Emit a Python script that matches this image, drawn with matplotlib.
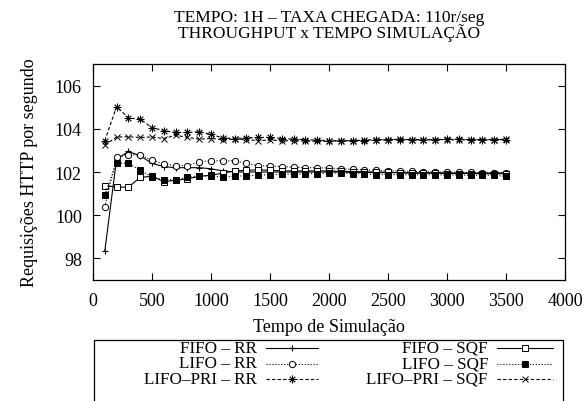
import numpy as np
import matplotlib
matplotlib.use("Agg")
import matplotlib.pyplot as plt
from matplotlib.patches import Rectangle
from matplotlib.lines import Line2D

plt.rcParams["font.family"] = ["Liberation Serif", "DejaVu Serif"]
FS = 13

# simulation time (s)
tempo = list(range(100, 3600, 100))

fifo_rr = [98.35, 102.6, 102.95, 102.75, 102.4, 102.25, 102.2, 102.2, 102.2, 102.15,
           102.05, 102.0, 102.0, 102.0, 102.0, 102.0, 102.0, 102.0, 102.0, 102.0,
           102.0, 101.98, 101.98, 101.97, 101.97, 101.97, 101.96, 101.96, 101.96, 101.95,
           101.95, 101.95, 101.95, 101.95, 101.95]
lifo_rr = [100.4, 102.68, 102.8, 102.78, 102.55, 102.37, 102.3, 102.3, 102.48, 102.52,
           102.52, 102.52, 102.4, 102.3, 102.28, 102.25, 102.22, 102.2, 102.2, 102.18,
           102.15, 102.12, 102.1, 102.08, 102.05, 102.05, 102.03, 102.02, 102.0, 102.0,
           101.98, 101.98, 101.97, 101.97, 101.97]
lifopri_rr = [103.45, 105.03, 104.5, 104.45, 104.05, 103.92, 103.83, 103.83, 103.86, 103.74,
              103.58, 103.55, 103.58, 103.6, 103.6, 103.55, 103.52, 103.5, 103.48, 103.45,
              103.45, 103.45, 103.45, 103.47, 103.5, 103.5, 103.5, 103.5, 103.5, 103.52,
              103.52, 103.5, 103.5, 103.5, 103.5]
fifo_sqf = [101.37, 101.3, 101.3, 101.75, 101.8, 101.55, 101.62, 101.68, 101.8, 101.85,
            101.95, 102.05, 102.08, 102.1, 102.08, 102.05, 102.05, 102.05, 102.05, 102.05,
            102.03, 102.02, 102.0, 102.0, 101.98, 101.97, 101.95, 101.95, 101.95, 101.93,
            101.93, 101.93, 101.92, 101.92, 101.92]
lifo_sqf = [100.95, 102.42, 102.4, 102.08, 101.78, 101.65, 101.65, 101.75, 101.83, 101.8,
            101.78, 101.8, 101.83, 101.85, 101.88, 101.9, 101.9, 101.92, 101.93, 101.95,
            101.95, 101.93, 101.9, 101.88, 101.88, 101.87, 101.87, 101.87, 101.87, 101.86,
            101.86, 101.85, 101.85, 101.85, 101.8]
lifopri_sqf = [103.25, 103.62, 103.63, 103.6, 103.62, 103.55, 103.7, 103.6, 103.52, 103.55,
               103.5, 103.52, 103.5, 103.45, 103.48, 103.45, 103.45, 103.43, 103.42, 103.42,
               103.45, 103.45, 103.48, 103.5, 103.5, 103.52, 103.5, 103.48, 103.5, 103.5,
               103.48, 103.5, 103.48, 103.5, 103.52]

series = [
    ("FIFO – RR", fifo_rr, dict(ls="-", marker="+", ms=5, mew=0.8)),
    ("LIFO – RR", lifo_rr, dict(ls=":", marker="o", ms=4.5, mfc="white", mew=0.7)),
    ("LIFO–PRI – RR", lifopri_rr, dict(ls=(0, (3, 2)), marker=(8, 2, 0), ms=5.5, mew=0.6)),
    ("FIFO – SQF", fifo_sqf, dict(ls="-", marker="s", ms=4, mfc="white", mew=0.7)),
    ("LIFO – SQF", lifo_sqf, dict(ls=":", marker="s", ms=4, mfc="k", mew=0.7)),
    ("LIFO–PRI – SQF", lifopri_sqf, dict(ls=(0, (3, 2)), marker="x", ms=4.5, mew=0.7)),
]

W, H = 585, 402
fig = plt.figure(figsize=(W / 100, H / 100), dpi=100)
ax = fig.add_axes([93 / W, 1 - 281 / H, 472 / W, 216 / H])

for name, vals, st in series:
    ax.plot(tempo, vals, color="k", lw=0.8, label=name, **st)

ax.set_xlim(0, 4000)
ax.set_ylim(97, 107)
ax.set_xticks(range(0, 4001, 500))
ax.set_yticks(range(98, 107, 2))
ax.tick_params(direction="in", top=True, right=True, length=5, width=0.8, labelsize=FS)
ax.tick_params(axis="y", pad=8)
ax.tick_params(axis="x", pad=9)
for s in ax.spines.values():
    s.set_linewidth(0.9)

# title, two tight lines centred over the plot
cx = (93 + 565) / 2 / W
fig.text(cx, 1 - 10 / H, "TEMPO: 1H – TAXA CHEGADA: 110r/seg\nTHROUGHPUT x TEMPO SIMULAÇÃO",
         ha="center", va="top", fontsize=12.5, linespacing=0.85)

ax.set_xlabel("Tempo de Simulação", fontsize=FS, labelpad=6)
ax.set_ylabel("Requisições HTTP por segundo", fontsize=FS, labelpad=12)

# legend box below the plot, cut off by the figure edge (gnuplot style)
fig.patches.append(Rectangle((94 / W, -0.05), 469 / W, 0.05 + 61 / H,
                             transform=fig.transFigure, fill=False, lw=0.9, ec="k"))
rows_y = [349, 364.5, 380]
cols = [(257, 266, 318), (488, 497, 553)]
for i, (name, vals, st) in enumerate(series):
    col, row = divmod(i, 3)
    tx, x0, x1 = cols[col]
    yy = 1 - rows_y[row] / H
    fig.text(tx / W, yy, name, ha="right", va="center", fontsize=12.3)
    fig.add_artist(Line2D([x0 / W, x1 / W], [yy, yy], color="k", lw=0.8,
                          ls=st["ls"], transform=fig.transFigure))
    mst = {k: v for k, v in st.items() if k != "ls"}
    fig.add_artist(Line2D([(x0 + x1) / 2 / W], [yy], color="k", ls="none",
                          transform=fig.transFigure, **mst))

fig.savefig("out.png", dpi=100)
